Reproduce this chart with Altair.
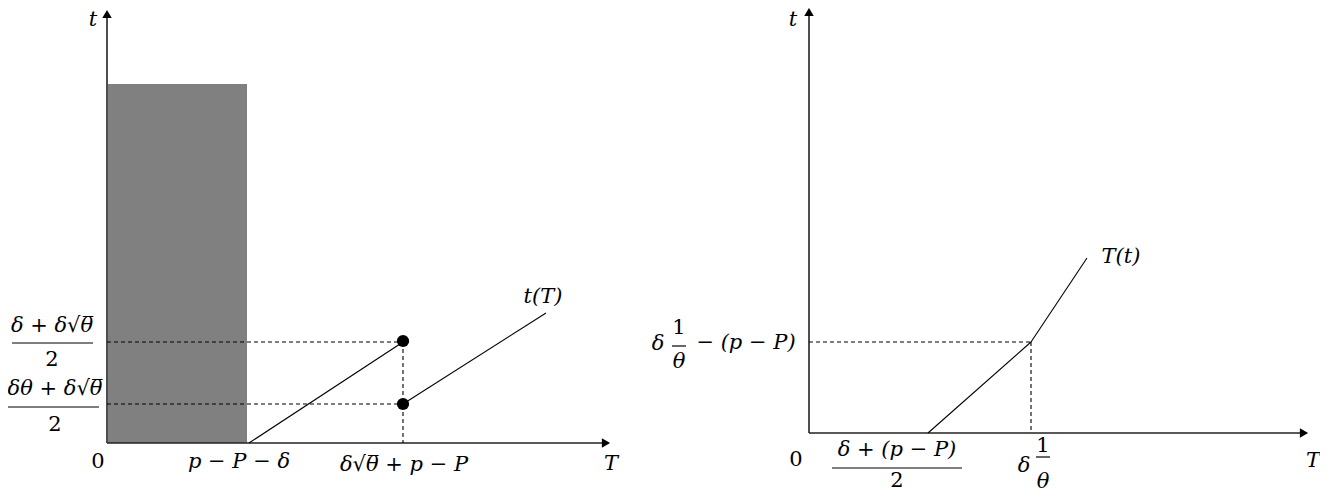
import altair as alt
import pandas as pd

# ---- geometry of the schematic (figure coordinates, y grows downward) ----
# axes: x0, y0, x1, y1
axis_x0 = [107, 107, 809, 809]
axis_y0 = [443, 443, 433, 433]
axis_x1 = [107, 606, 809, 1304]
axis_y1 = [16, 443, 14, 433]

# arrow heads
arrow_x = [107, 606, 809, 1304]
arrow_y = [14, 443, 12, 433]
arrow_shape = ["triangle-up", "triangle-right", "triangle-up", "triangle-right"]

# shaded region (left panel)
rect_x = [108]
rect_x2 = [247]
rect_y = [84]
rect_y2 = [443]

# solid curves t(T) and T(t)
seg_x0 = [249, 403, 928, 1031]
seg_y0 = [443, 404, 433, 342]
seg_x1 = [403, 546, 1031, 1087]
seg_y1 = [342, 313, 342, 258]

# dashed guides
dash_x0 = [107, 107, 403, 809, 1031]
dash_y0 = [342, 404, 342, 342, 342]
dash_x1 = [409, 403, 403, 1031, 1031]
dash_y1 = [342, 404, 443, 342, 433]

# jump points
dot_x = [403, 403]
dot_y = [341, 404]

# fraction bars
bar_x0 = [12, 8, 832, 1036, 672]
bar_x1 = [93, 99, 962, 1050, 686]
bar_y = [343, 407, 468, 457, 346]

# italic (math) labels
it_text = ["t", "T", "p − P − δ", "δ√θ̅ + p − P", "δ + δ√θ̅", "δθ + δ√θ̅",
           "t(T)", "t", "T", "δ + (p − P)", "δ", "θ", "T(t)", "δ", "θ", "− (p − P)"]
it_x = [93, 611, 239, 404, 52, 55,
        543, 793, 1313, 897, 1024, 1043, 1121, 658, 679, 746]
it_y = [20, 464, 462, 465, 326, 389,
        297, 20, 461, 450, 466, 482, 257, 344, 362, 343]

# upright labels (digits)
up_text = ["0", "2", "2", "0", "2", "1", "1"]
up_x = [98, 52, 55, 796, 897, 1043, 679]
up_y = [462, 360, 425, 460, 481, 446, 328]

X = dict(scale=alt.Scale(domain=[8, 1320], zero=False, nice=False), axis=None)
Y = dict(scale=alt.Scale(domain=[8, 494], reverse=True, zero=False, nice=False), axis=None)

FONT = "DejaVu Serif"

axes = alt.Chart(pd.DataFrame(dict(x=axis_x0, y=axis_y0, x2=axis_x1, y2=axis_y1))).mark_rule(
    color="#222", strokeWidth=1.6
).encode(x=alt.X("x:Q", **X), y=alt.Y("y:Q", **Y), x2="x2:Q", y2="y2:Q")

arrows = alt.Chart(pd.DataFrame(dict(x=arrow_x, y=arrow_y, s=arrow_shape))).mark_point(
    filled=True, color="black", size=90, opacity=1
).encode(x=alt.X("x:Q", **X), y=alt.Y("y:Q", **Y),
         shape=alt.Shape("s:N", scale=None, legend=None))

rect = alt.Chart(pd.DataFrame(dict(x=rect_x, x2=rect_x2, y=rect_y, y2=rect_y2))).mark_rect(
    color="#808080"
).encode(x=alt.X("x:Q", **X), x2="x2:Q", y=alt.Y("y:Q", **Y), y2="y2:Q")

segs = alt.Chart(pd.DataFrame(dict(x=seg_x0, y=seg_y0, x2=seg_x1, y2=seg_y1))).mark_rule(
    color="black", strokeWidth=1.1
).encode(x=alt.X("x:Q", **X), y=alt.Y("y:Q", **Y), x2="x2:Q", y2="y2:Q")

dashes = alt.Chart(pd.DataFrame(dict(x=dash_x0, y=dash_y0, x2=dash_x1, y2=dash_y1))).mark_rule(
    color="black", strokeWidth=1.1, strokeDash=[4, 3]
).encode(x=alt.X("x:Q", **X), y=alt.Y("y:Q", **Y), x2="x2:Q", y2="y2:Q")

dots = alt.Chart(pd.DataFrame(dict(x=dot_x, y=dot_y))).mark_circle(
    color="black", size=150, opacity=1
).encode(x=alt.X("x:Q", **X), y=alt.Y("y:Q", **Y))

bars = alt.Chart(pd.DataFrame(dict(x=bar_x0, x2=bar_x1, y=bar_y))).mark_rule(
    color="black", strokeWidth=1.2
).encode(x=alt.X("x:Q", **X), x2="x2:Q", y=alt.Y("y:Q", **Y))

it_labels = alt.Chart(pd.DataFrame(dict(t=it_text, x=it_x, y=it_y))).mark_text(
    font=FONT, fontStyle="italic", fontSize=21, color="black",
    align="center", baseline="middle"
).encode(x=alt.X("x:Q", **X), y=alt.Y("y:Q", **Y), text="t:N")

up_labels = alt.Chart(pd.DataFrame(dict(t=up_text, x=up_x, y=up_y))).mark_text(
    font=FONT, fontSize=21, color="black",
    align="center", baseline="middle"
).encode(x=alt.X("x:Q", **X), y=alt.Y("y:Q", **Y), text="t:N")

chart = alt.layer(rect, axes, arrows, dashes, segs, dots, bars, it_labels, up_labels).properties(
    width=1312, height=486, padding=0, background="white",
    autosize=alt.AutoSizeParams(type="none")
).configure_view(stroke=None)

chart.save("out.html", embed_options={"renderer": "svg", "actions": False})
